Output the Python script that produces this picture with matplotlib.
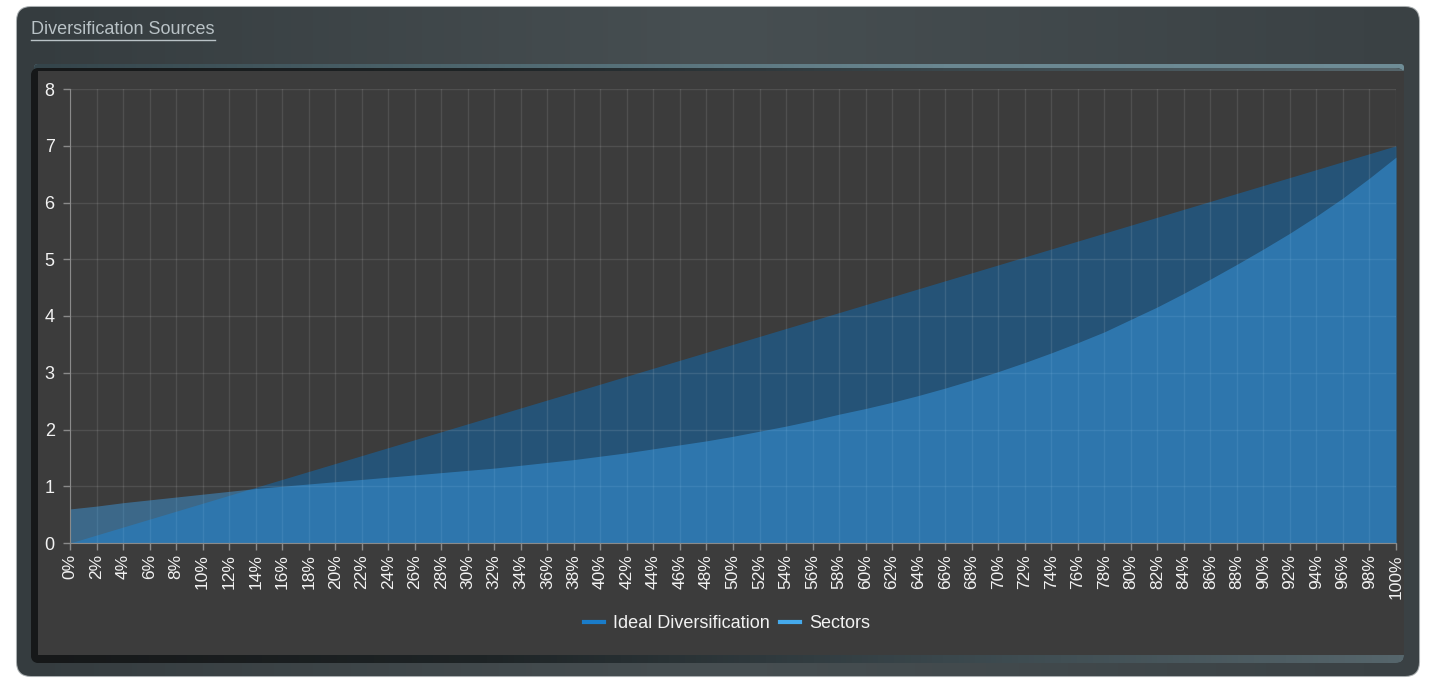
import numpy as np
import matplotlib
matplotlib.use("Agg")
import matplotlib.pyplot as plt
from matplotlib.colors import LinearSegmentedColormap
from matplotlib.patches import FancyBboxPatch, Rectangle
from matplotlib.lines import Line2D

plt.rcParams['font.family'] = ['Liberation Sans', 'DejaVu Sans']

# data
x_labels = ['%d%%' % p for p in range(0, 101, 2)]
ideal = [0.00, 0.14, 0.28, 0.42, 0.56, 0.70, 0.84, 0.98, 1.12, 1.26,
         1.40, 1.54, 1.68, 1.82, 1.96, 2.10, 2.24, 2.38, 2.52, 2.66,
         2.80, 2.94, 3.08, 3.22, 3.36, 3.50, 3.64, 3.78, 3.92, 4.06,
         4.20, 4.34, 4.48, 4.62, 4.76, 4.90, 5.04, 5.18, 5.32, 5.46,
         5.60, 5.74, 5.88, 6.02, 6.16, 6.30, 6.44, 6.58, 6.72, 6.86, 7.00]
sectors = [0.60, 0.65, 0.71, 0.76, 0.81, 0.86, 0.91, 0.96, 1.00, 1.04,
           1.08, 1.12, 1.16, 1.20, 1.24, 1.28, 1.32, 1.37, 1.42, 1.47,
           1.53, 1.59, 1.66, 1.73, 1.80, 1.88, 1.97, 2.06, 2.16, 2.27,
           2.37, 2.48, 2.60, 2.73, 2.87, 3.02, 3.18, 3.35, 3.53, 3.72,
           3.94, 4.16, 4.40, 4.65, 4.91, 5.18, 5.46, 5.76, 6.08, 6.43, 6.80]
y_ticks = [0, 1, 2, 3, 4, 5, 6, 7, 8]

W, H = 1437, 681
fig = plt.figure(figsize=(W / 100, H / 100), dpi=100, facecolor='white')

# background frame drawn in pixel coordinates
bg = fig.add_axes([0, 0, 1, 1])
bg.set_xlim(0, W)
bg.set_ylim(H, 0)
bg.axis('off')


def hgrad(x0, x1, y0, y1, colors, z, clip=None):
    g = np.linspace(0, 1, 256).reshape(1, -1)
    im = bg.imshow(g, extent=(x0, x1, y1, y0), aspect='auto', zorder=z,
                   cmap=LinearSegmentedColormap.from_list('g', colors))
    if clip is not None:
        im.set_clip_path(clip)
    return im


outer = FancyBboxPatch((17, 7), 1402, 669, boxstyle='round,pad=0,rounding_size=14',
                       facecolor='#3e4548', edgecolor='#a9aeb0', lw=1.5, zorder=1)
bg.add_patch(outer)
hgrad(17, 1419, 7, 676, ['#353c3f', '#474f52', '#3a4144'], 1, outer)

# inner chart panel
top = FancyBboxPatch((34, 64), 1370, 8, boxstyle='round,pad=0,rounding_size=4',
                     facecolor='#6a8791', edgecolor='none', zorder=2)
bg.add_patch(top)
hgrad(34, 1404, 64, 72, ['#34444a', '#4f6870', '#6a8791', '#6f8d97'], 2, top)
bottom = FancyBboxPatch((31, 68), 1373, 595, boxstyle='round,pad=0,rounding_size=8',
                        facecolor='#1c1f20', edgecolor='none', zorder=2)
bg.add_patch(bottom)
hgrad(31, 1404, 68, 663, ['#161819', '#1e2426', '#3a474c', '#56666c'], 2, bottom)
bg.add_patch(Rectangle((38, 71), 1366, 584, facecolor='#3c3c3c', edgecolor='none', zorder=3))

# title
title = fig.text(31 / W, 1 - 30 / H, 'Diversification Sources', color='#b9c2c6',
                 fontsize=13, va='center', ha='left')
fig.canvas.draw()
bb = title.get_window_extent(fig.canvas.get_renderer())
fig.add_artist(Line2D([bb.x0 / W, bb.x1 / W], [(bb.y0 - 1) / H, (bb.y0 - 1) / H],
                      color='#b9c2c6', lw=1))

# main plot
ax = fig.add_axes([70 / W, 1 - 543 / H, (1396 - 70) / W, (543 - 89) / H])
ax.set_facecolor('none')
x = np.arange(len(x_labels))

ax.fill_between(x, 0, ideal, color='#1664a0', alpha=0.6, lw=0, zorder=2)
ax.fill_between(x, 0, sectors, color='#3cacff', alpha=0.4, lw=0, zorder=3)

ax.set_xlim(0, len(x_labels) - 1)
ax.set_ylim(0, 8)
ax.set_xticks(x)
ax.set_xticklabels(x_labels, rotation=90, fontsize=12.5, color='#f2f2f2')
ax.set_yticks(y_ticks)
ax.set_yticklabels([str(v) for v in y_ticks], fontsize=13, color='#f2f2f2')
ax.tick_params(axis='both', colors='#8a8a8a', length=5, width=1, labelcolor='#f2f2f2', pad=3)
ax.tick_params(axis='y', pad=6)
ax.grid(True, color='white', alpha=0.1, lw=1, zorder=4)
ax.set_axisbelow(False)
for side in ['top', 'right']:
    ax.spines[side].set_visible(False)
for side in ['left', 'bottom']:
    ax.spines[side].set_color('#8a8a8a')
    ax.spines[side].set_zorder(5)

handles = [Line2D([0], [0], color='#1a7cc9', lw=3),
           Line2D([0], [0], color='#45aaec', lw=3)]
fig.legend(handles, ['Ideal Diversification', 'Sectors'], loc='center',
           bbox_to_anchor=(727 / W, 1 - 624 / H), ncol=2, frameon=False,
           fontsize=13, labelcolor='#f2f2f2', handlelength=1.1,
           handletextpad=0.5, columnspacing=0.6)

fig.savefig('out.png', dpi=100, facecolor='white')
